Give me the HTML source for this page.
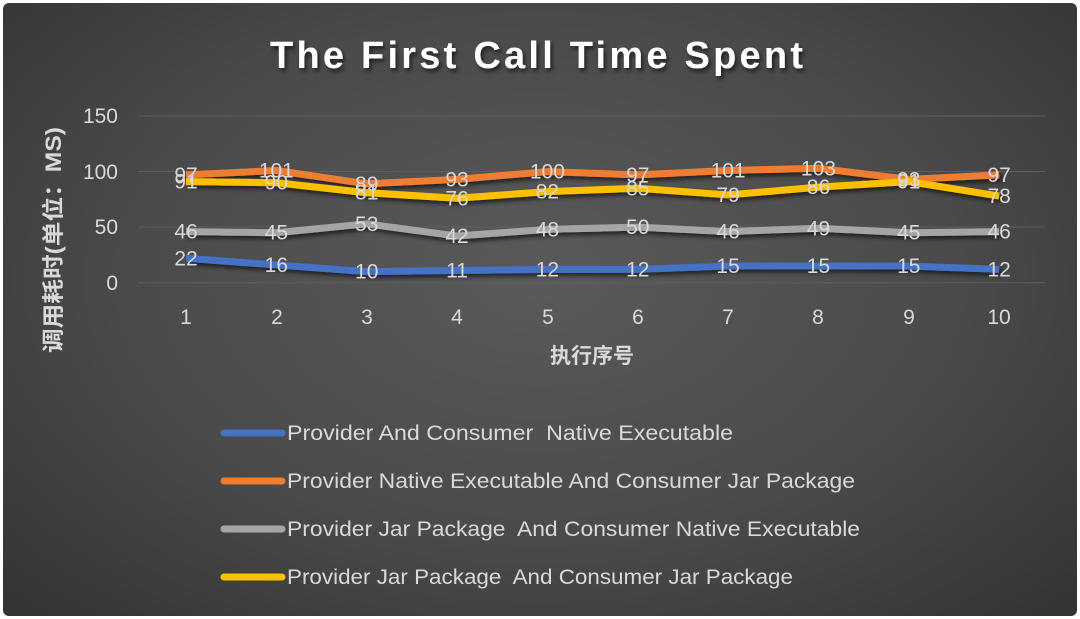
<!DOCTYPE html>
<html><head><meta charset="utf-8"><style>
html,body{margin:0;padding:0;background:#fff;}
#c{position:absolute;left:3px;top:3px;width:1074px;height:613px;border-radius:6px;background:radial-gradient(ellipse at 50% 45%,#5a5a5a 0%,#4a4a4a 55%,#333 100%);overflow:hidden}
svg{position:absolute;left:0;top:0}
text{font-family:"Liberation Sans","Noto Sans CJK SC",sans-serif;fill:#d9d9d9;white-space:pre}
</style></head><body><div id="c"></div>
<svg width="1080" height="619" viewBox="0 0 1080 619">
<defs><filter id="sh" x="-10%" y="-10%" width="120%" height="140%"><feDropShadow dx="2" dy="3" stdDeviation="2" flood-color="#000" flood-opacity="0.6"/></filter></defs>
<text x="270" y="68" font-size="38" font-weight="bold" textLength="533" lengthAdjust="spacing" style="fill:#fff" filter="url(#sh)">The First Call Time Spent</text>
<g stroke="#5e5e5e" stroke-width="1">
<line x1="138" y1="116" x2="1045" y2="116"/><line x1="138" y1="171.5" x2="1045" y2="171.5"/><line x1="138" y1="227" x2="1045" y2="227"/><line x1="138" y1="282.7" x2="1045" y2="282.7"/></g>
<g font-size="21" text-anchor="end"><text x="118" y="123">150</text><text x="118" y="179">100</text><text x="118" y="234">50</text><text x="118" y="290">0</text></g>
<g font-size="21" text-anchor="middle">
<text x="186" y="324">1</text><text x="277" y="324">2</text><text x="367" y="324">3</text><text x="457" y="324">4</text><text x="548" y="324">5</text><text x="638" y="324">6</text><text x="728" y="324">7</text><text x="818" y="324">8</text><text x="909" y="324">9</text><text x="999" y="324">10</text></g>
<text x="592" y="363" text-anchor="middle" font-size="21" font-weight="bold">执行序号</text>
<text transform="translate(61,353) rotate(-90)" font-size="22" font-weight="bold" textLength="226" lengthAdjust="spacingAndGlyphs">调用耗时(单位：MS)</text>
<g fill="none" stroke-width="7" stroke-linejoin="round" filter="url(#sh)">
<polyline id="b" stroke="#4472c4" points=""/>
<polyline id="o" stroke="#ed7d31" points=""/>
<polyline id="g" stroke="#a5a5a5" points=""/>
<polyline id="y" stroke="#ffc000" points=""/>
</g>
<g id="lab" font-size="21" text-anchor="middle"></g>
<g stroke-width="7" stroke-linecap="round">
<line x1="224" y1="433" x2="282" y2="433" stroke="#4472c4"/>
<line x1="224" y1="481" x2="282" y2="481" stroke="#ed7d31"/>
<line x1="224" y1="529" x2="282" y2="529" stroke="#a5a5a5"/>
<line x1="224" y1="577" x2="282" y2="577" stroke="#ffc000"/></g>
<g font-size="21">
<text x="287" y="440" textLength="446" lengthAdjust="spacingAndGlyphs">Provider And Consumer  Native Executable</text>
<text x="287" y="488" textLength="568" lengthAdjust="spacingAndGlyphs">Provider Native Executable And Consumer Jar Package</text>
<text x="287" y="536" textLength="573" lengthAdjust="spacingAndGlyphs">Provider Jar Package  And Consumer Native Executable</text>
<text x="287" y="584" textLength="506" lengthAdjust="spacingAndGlyphs">Provider Jar Package  And Consumer Jar Package</text></g>
</svg>
<script>
var D={b:[22,16,10,11,12,12,15,15,15,12],o:[97,101,89,93,100,97,101,103,93,97],g:[46,45,53,42,48,50,46,49,45,46],y:[91,90,81,76,82,85,79,86,91,78]};
var X=i=>186+i*90.35,Y=v=>282.7-v*1.111;
var lab=document.getElementById('lab'),ns='http://www.w3.org/2000/svg';
for(var k of ['g','b','o','y']){var p=D[k].map((v,i)=>X(i)+','+Y(v)).join(' ');document.getElementById(k).setAttribute('points',p);
D[k].forEach((v,i)=>{var t=document.createElementNS(ns,'text');t.setAttribute('x',X(i));t.setAttribute('y',Y(v)+7);t.textContent=v;lab.appendChild(t);});}
</script>
</body></html>
